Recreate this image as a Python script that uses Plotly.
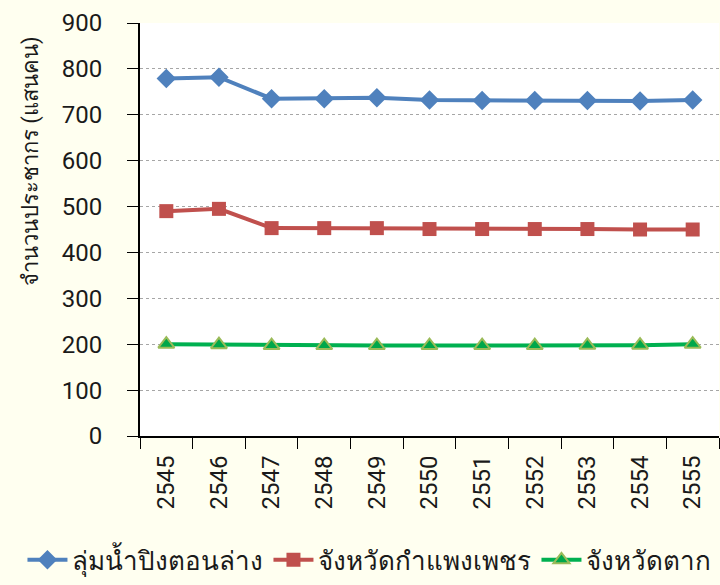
import plotly.graph_objects as go

years = ["2545", "2546", "2547", "2548", "2549", "2550", "2551", "2552", "2553", "2554", "2555"]
basin = [779, 782, 735, 735, 737, 732, 731, 731, 731, 730, 732]
kamphaeng = [490, 495, 453, 453, 453, 451, 451, 451, 451, 450, 450]
tak = [200, 199, 197, 197, 197, 197, 197, 197, 197.5, 198, 200]

names = ["ลุ่มน้ำปิงตอนล่าง", "จังหวัดกำแพงเพชร", "จังหวัดตาก"]
y_title = "จำนวนประชากร (แสนคน)"
y_ticks = [0, 100, 200, 300, 400, 500, 600, 700, 800, 900]

font_family = "Roboto, Noto Sans, DejaVu Sans, sans-serif"

fig = go.Figure()
fig.add_trace(go.Scatter(
    x=years, y=basin, name=names[0], mode="lines+markers",
    line=dict(color="#4F81BD", width=4),
    marker=dict(symbol="diamond", size=15, color="#4F81BD"),
))
fig.add_trace(go.Scatter(
    x=years, y=kamphaeng, name=names[1], mode="lines+markers",
    line=dict(color="#C0504D", width=4),
    marker=dict(symbol="square", size=14, color="#C0504D"),
))
fig.add_trace(go.Scatter(
    x=years, y=tak, name=names[2], mode="lines+markers",
    line=dict(color="#00B050", width=4),
    marker=dict(symbol="triangle-up", size=14, color="#00A74A",
                line=dict(color="#9BBB59", width=2)),
))

fig.update_layout(
    width=720, height=585,
    margin=dict(l=140, r=1, t=23, b=149),
    paper_bgcolor="#FFFFF0",
    plot_bgcolor="#FFFFFF",
    font=dict(family=font_family, size=24, color="#1a1a1a"),
    showlegend=True,
    legend=dict(orientation="h", x=-0.203, xref="paper", xanchor="left",
                y=-0.30, yanchor="middle", font=dict(size=26),
                bgcolor="rgba(0,0,0,0)", itemwidth=40),
    xaxis=dict(
        type="category", range=[-0.5, 10.5], automargin=False,
        showline=True, linecolor="black", linewidth=2,
        ticks="outside", ticklen=11, tickcolor="black", tickwidth=1,
        tickson="boundaries", tickangle=-90, ticklabelstandoff=8,
        showgrid=False, tickfont=dict(size=24),
    ),
    yaxis=dict(
        range=[0, 900], tickvals=y_ticks, automargin=False,
        showline=True, linecolor="black", linewidth=2,
        ticks="outside", ticklen=11, tickcolor="black", tickwidth=1,
        showgrid=True, gridcolor="#A6A6A6", griddash="dot", gridwidth=1,
        zeroline=False, tickfont=dict(size=24), ticklabelstandoff=20,
    ),
    annotations=[dict(
        text=y_title, textangle=-90, showarrow=False,
        xref="paper", yref="paper", x=-0.188, y=0.666,
        xanchor="center", yanchor="middle",
        font=dict(size=22, color="#1a1a1a"),
    )],
)

fig.write_html(
    "out.html",
    config={"displayModeBar": False},
    post_script="document.body.style.margin='0';document.body.style.background='#FFFFF0';",
)
